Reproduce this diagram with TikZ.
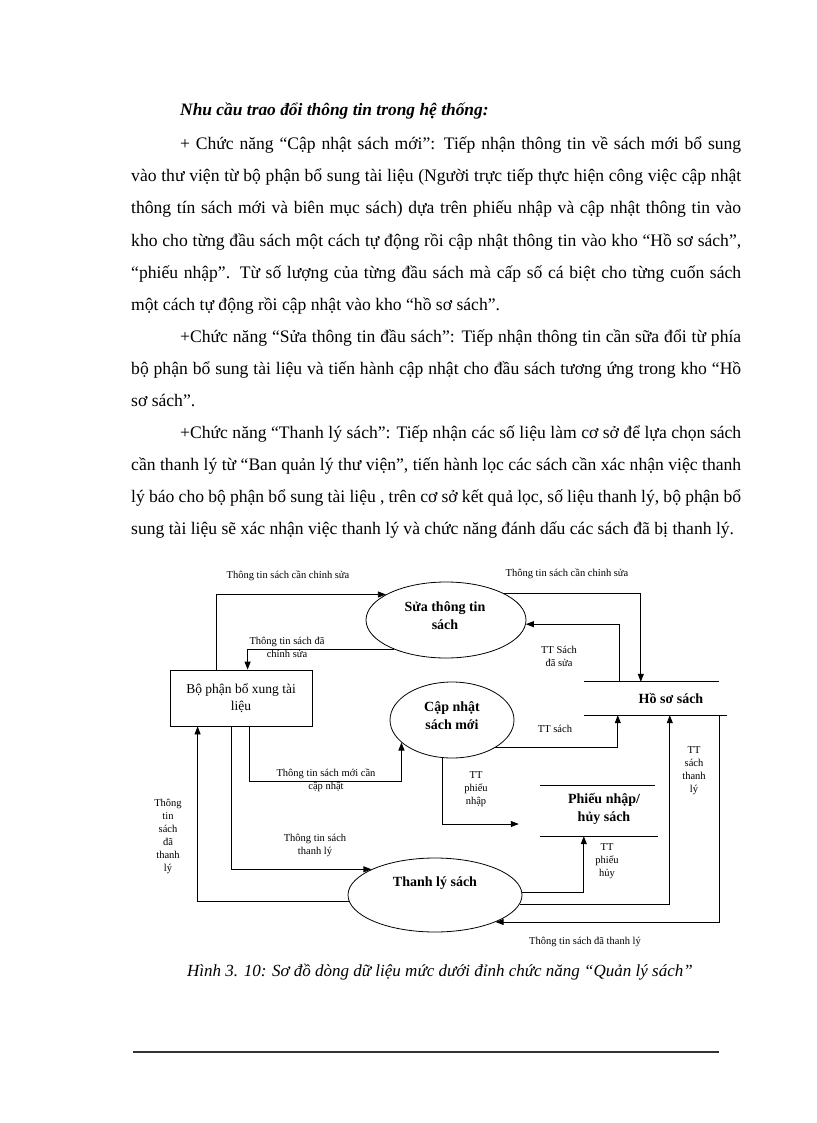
\documentclass[tikz,border=0pt]{standalone}
\usepackage{fontspec}
\setmainfont{Liberation Serif}
\usetikzlibrary{shapes.geometric,arrows.meta}
\newcommand\jl[2]{\makebox[#1pt][s]{#2}}
\tikzset{
  body/.style={anchor=base west, inner sep=0, font=\fontsize{17.6}{32}\selectfont},
  proc/.style={ellipse, draw, line width=0.8pt, inner sep=0},
  ptext/.style={font=\bfseries\fontsize{14}{18}\selectfont, align=center, inner sep=0},
  lbl/.style={font=\fontsize{10.5}{13}\selectfont, align=center, inner sep=0},
  flow/.style={draw, line width=0.8pt, -{Triangle[length=8pt,width=6pt]}},
  store/.style={line width=0.8pt}
}
\begin{document}
\begin{tikzpicture}[x=1pt,y=-1pt]
\useasboundingbox (0,0) rectangle (816,1123);
% ---------- text ----------
\node[anchor=base west, inner sep=0, font=\bfseries\itshape\fontsize{17.4}{20}\selectfont] (head) at (180,116) {Nhu cầu trao đổi thông tin trong hệ thống:};
\node[body] (t1) at (180,150) {\jl{561}{+ Chức năng “Cập nhật sách mới”: Tiếp nhận thông tin về sách mới bổ sung}};
\node[body] (t2) at (131,182) {\jl{610}{vào thư viện từ bộ phận bổ sung tài liệu (Người trực tiếp thực hiện công việc cập nhật}};
\node[body] (t3) at (131,214) {\jl{610}{thông tín sách mới và biên mục sách) dựa trên phiếu nhập và cập nhật thông tin vào}};
\node[body] (t4) at (131,246) {\jl{610}{kho cho từng đầu sách một cách tự động rồi cập nhật thông tin vào kho “Hồ sơ sách”,}};
\node[body] (t5) at (131,278) {\jl{610}{“phiếu nhập”. Từ số lượng của từng đầu sách mà cấp số cá biệt cho từng cuốn sách}};
\node[body] (t6) at (131,310) {một cách tự động rồi cập nhật vào kho “hồ sơ sách”.};
\node[body] (t7) at (180,342) {\jl{561}{+Chức năng “Sửa thông tin đầu sách”: Tiếp nhận thông tin cần sữa đổi từ phía}};
\node[body] (t8) at (131,374) {\jl{610}{bộ phận bổ sung tài liệu và tiến hành cập nhật cho đầu sách tương ứng trong kho “Hồ}};
\node[body] (t9) at (131,406) {sơ sách”.};
\node[body] (t10) at (180,438) {\jl{561}{+Chức năng “Thanh lý sách”: Tiếp nhận các số liệu làm cơ sở để lựa chọn sách}};
\node[body] (t11) at (131,470) {\jl{610}{cần thanh lý từ “Ban quản lý thư viện”, tiến hành lọc các sách cần xác nhận việc thanh}};
\node[body] (t12) at (131,502) {\jl{610}{lý báo cho bộ phận bổ sung tài liệu , trên cơ sở kết quả lọc, số liệu thanh lý, bộ phận bổ}};
\node[body] (t13) at (131,534) {sung tài liệu sẽ xác nhận việc thanh lý và chức năng đánh dấu các sách đã bị thanh lý.};
% ---------- diagram nodes ----------
\node[proc, minimum width=160, minimum height=76] (sua) at (446,620) {};
\node[ptext] (suat) at (445,616) {Sửa thông tin\\sách};
\node[proc, minimum width=124, minimum height=76] (cap) at (452,720) {};
\node[ptext] (capt) at (452,716) {Cập nhật\\sách mới};
\node[proc, minimum width=174, minimum height=74] (thanh) at (435,895) {};
\node[ptext] (thanht) at (435,883) {Thanh lý sách};
\node[draw, line width=0.8pt, minimum width=142, minimum height=56, inner sep=0,
      font=\fontsize{13.5}{17}\selectfont, align=center] (box) at (241,698) {Bộ phận bổ xung tài\\liệu};
\node[minimum width=143, minimum height=33, inner sep=0] (hoso) at (655.5,698.5) {};
\node[ptext] (hosot) at (671,698) {Hồ sơ sách};
\draw[store] (hoso.north west) -- ([xshift=-8pt]hoso.north east);
\draw[store] (hoso.south west) -- (hoso.south east);
\node[minimum width=118, minimum height=50, inner sep=0] (phieu) at (599,811) {};
\node[ptext] (phieut) at (604,809) {Phiếu nhập/\\hủy sách};
\draw[store] (phieu.north west) -- ([xshift=-3pt]phieu.north east);
\draw[store] (phieu.south west) -- (phieu.south east);
% ---------- connectors ----------
\draw[flow] ([xshift=47pt]box.north west) |- (sua.157.4);
\draw[flow] (sua.209.3) -| ([xshift=78pt]box.north west);
\draw[flow] (sua.25.6) -| ([xshift=57pt]hoso.north west);
\draw[flow] ([xshift=36pt]hoso.north west) |- (sua.-3.6);
\draw[flow] (cap.-33.7) -| ([xshift=34pt]hoso.south west);
\draw[flow] (thanh.-6.8) -| ([xshift=86pt]hoso.south west);
\draw[flow] ([xshift=136pt]hoso.south west) |- (thanh.-24.4);
\draw[flow] (cap.256.5) |- ([xshift=-21pt,yshift=-13pt]phieu.west);
\draw[flow] (thanh.2.6) -| ([xshift=44pt]phieu.south west);
\draw[flow] ([xshift=62pt]box.south west) |- (thanh.158.7);
\draw[flow] ([xshift=80pt]box.south west) -- ++(0,55) -| (cap.204.2);
\draw[flow] (thanh.184.6) -| ([xshift=28pt]box.south west);
% ---------- labels ----------
\node[lbl] (a1) at (288,576) {Thông tin sách cần chỉnh sửa};
\node[lbl] (a2) at (567,574) {Thông tin sách cần chỉnh sửa};
\node[lbl] (a3) at (287,647) {Thông tin sách đã\\chỉnh sửa};
\node[lbl] (a4) at (559,656) {TT Sách\\đã sửa};
\node[lbl] (a5) at (555,729) {TT sách};
\node[lbl] (a6) at (326,780) {Thông tin sách mới cần\\cập nhật};
\node[lbl] (a7) at (476,789) {TT\\phiếu\\nhập};
\node[lbl] (a8) at (607,861) {TT\\phiếu\\hủy};
\node[lbl] (a9) at (694,771) {TT\\sách\\thanh\\lý};
\node[lbl] (a10) at (315,845) {Thông tin sách\\thanh lý};
\node[lbl] (a11) at (168,836) {Thông\\tin\\sách\\đã\\thanh\\lý};
\node[lbl] (a12) at (585,942) {Thông tin sách đã thanh lý};
% ---------- caption and rule ----------
\node[font=\itshape\fontsize{17}{20}\selectfont, inner sep=0] (cap1) at (440,972) {Hình 3. 10: Sơ đồ dòng dữ liệu mức dưới đỉnh chức năng “Quản lý sách”};
\coordinate (r1) at (133,1052);
\coordinate (r2) at (719,1052);
\draw[line width=1.2pt, black!80] (r1) -- (r2);
\end{tikzpicture}
\end{document}
